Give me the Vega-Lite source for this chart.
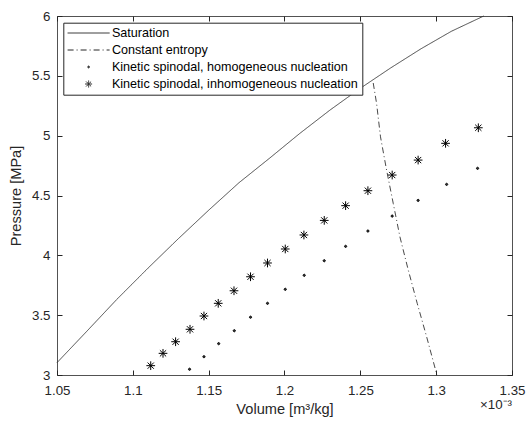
{
  "$schema": "https://vega.github.io/schema/vega-lite/v6.json",
  "width": 455,
  "height": 359,
  "autosize": {"type": "none"},
  "padding": {"left": 57, "top": 16, "right": 16, "bottom": 52},
  "background": "white",
  "title": {"text": "×10⁻³", "orient": "bottom", "anchor": "end", "frame": "group", "offset": -18, "font": "Liberation Sans", "fontSize": 13.3, "fontWeight": "normal", "color": "#262626"},
  "datasets": {
    "lines": [
      {"series": "Saturation", "v": 1.05, "p": 3.103},
      {"series": "Saturation", "v": 1.07, "p": 3.37},
      {"series": "Saturation", "v": 1.0893, "p": 3.63},
      {"series": "Saturation", "v": 1.11, "p": 3.893},
      {"series": "Saturation", "v": 1.13, "p": 4.139},
      {"series": "Saturation", "v": 1.15, "p": 4.377},
      {"series": "Saturation", "v": 1.17, "p": 4.607},
      {"series": "Saturation", "v": 1.19, "p": 4.81},
      {"series": "Saturation", "v": 1.21, "p": 5.018},
      {"series": "Saturation", "v": 1.23, "p": 5.214},
      {"series": "Saturation", "v": 1.25, "p": 5.396},
      {"series": "Saturation", "v": 1.27, "p": 5.566},
      {"series": "Saturation", "v": 1.29, "p": 5.726},
      {"series": "Saturation", "v": 1.31, "p": 5.872},
      {"series": "Saturation", "v": 1.3314, "p": 6.0},
      {"series": "Constant entropy", "v": 1.2585, "p": 5.44},
      {"series": "Constant entropy", "v": 1.2607, "p": 5.27},
      {"series": "Constant entropy", "v": 1.2633, "p": 4.99},
      {"series": "Constant entropy", "v": 1.2673, "p": 4.713},
      {"series": "Constant entropy", "v": 1.2717, "p": 4.434},
      {"series": "Constant entropy", "v": 1.2761, "p": 4.155},
      {"series": "Constant entropy", "v": 1.2816, "p": 3.877},
      {"series": "Constant entropy", "v": 1.2875, "p": 3.599},
      {"series": "Constant entropy", "v": 1.2937, "p": 3.32},
      {"series": "Constant entropy", "v": 1.3005, "p": 3.0}
    ],
    "points": [
      {"series": "Kinetic spinodal, homogeneous nucleation", "v": 1.1374, "p": 3.048},
      {"series": "Kinetic spinodal, homogeneous nucleation", "v": 1.1469, "p": 3.153},
      {"series": "Kinetic spinodal, homogeneous nucleation", "v": 1.1566, "p": 3.262},
      {"series": "Kinetic spinodal, homogeneous nucleation", "v": 1.1669, "p": 3.37},
      {"series": "Kinetic spinodal, homogeneous nucleation", "v": 1.1776, "p": 3.483},
      {"series": "Kinetic spinodal, homogeneous nucleation", "v": 1.1888, "p": 3.599},
      {"series": "Kinetic spinodal, homogeneous nucleation", "v": 1.2005, "p": 3.716},
      {"series": "Kinetic spinodal, homogeneous nucleation", "v": 1.213, "p": 3.833},
      {"series": "Kinetic spinodal, homogeneous nucleation", "v": 1.2262, "p": 3.955},
      {"series": "Kinetic spinodal, homogeneous nucleation", "v": 1.2403, "p": 4.075},
      {"series": "Kinetic spinodal, homogeneous nucleation", "v": 1.255, "p": 4.203},
      {"series": "Kinetic spinodal, homogeneous nucleation", "v": 1.271, "p": 4.328},
      {"series": "Kinetic spinodal, homogeneous nucleation", "v": 1.2881, "p": 4.459},
      {"series": "Kinetic spinodal, homogeneous nucleation", "v": 1.3069, "p": 4.593},
      {"series": "Kinetic spinodal, homogeneous nucleation", "v": 1.3273, "p": 4.727},
      {"series": "Kinetic spinodal, inhomogeneous nucleation", "v": 1.1118, "p": 3.078},
      {"series": "Kinetic spinodal, inhomogeneous nucleation", "v": 1.1199, "p": 3.181},
      {"series": "Kinetic spinodal, inhomogeneous nucleation", "v": 1.1282, "p": 3.278},
      {"series": "Kinetic spinodal, inhomogeneous nucleation", "v": 1.1377, "p": 3.382},
      {"series": "Kinetic spinodal, inhomogeneous nucleation", "v": 1.1469, "p": 3.493},
      {"series": "Kinetic spinodal, inhomogeneous nucleation", "v": 1.1563, "p": 3.599},
      {"series": "Kinetic spinodal, inhomogeneous nucleation", "v": 1.1667, "p": 3.704},
      {"series": "Kinetic spinodal, inhomogeneous nucleation", "v": 1.1776, "p": 3.821},
      {"series": "Kinetic spinodal, inhomogeneous nucleation", "v": 1.1888, "p": 3.936},
      {"series": "Kinetic spinodal, inhomogeneous nucleation", "v": 1.2005, "p": 4.053},
      {"series": "Kinetic spinodal, inhomogeneous nucleation", "v": 1.2128, "p": 4.17},
      {"series": "Kinetic spinodal, inhomogeneous nucleation", "v": 1.2262, "p": 4.292},
      {"series": "Kinetic spinodal, inhomogeneous nucleation", "v": 1.2403, "p": 4.415},
      {"series": "Kinetic spinodal, inhomogeneous nucleation", "v": 1.255, "p": 4.54},
      {"series": "Kinetic spinodal, inhomogeneous nucleation", "v": 1.271, "p": 4.671},
      {"series": "Kinetic spinodal, inhomogeneous nucleation", "v": 1.2881, "p": 4.796},
      {"series": "Kinetic spinodal, inhomogeneous nucleation", "v": 1.3062, "p": 4.936},
      {"series": "Kinetic spinodal, inhomogeneous nucleation", "v": 1.3278, "p": 5.066}
    ]
  },
  "layer": [
    {
      "data": {"name": "lines"},
      "mark": {"type": "line", "strokeWidth": 0.9, "color": "#333333"},
      "encoding": {
        "x": {"field": "v", "type": "quantitative",
          "scale": {"domain": [1.05, 1.35], "nice": false, "zero": false},
          "axis": {"orient": "bottom", "values": [1.05, 1.1, 1.15, 1.2, 1.25, 1.3, 1.35], "format": ".2~f", "labelPadding": 13, "title": "Volume [m³/kg]", "titlePadding": 5}},
        "y": {"field": "p", "type": "quantitative",
          "scale": {"domain": [3, 6], "nice": false, "zero": false},
          "axis": {"orient": "left", "values": [3, 3.5, 4, 4.5, 5, 5.5, 6], "format": ".1~f", "labelPadding": 12, "title": "Pressure [MPa]", "titlePadding": 8}},
        "strokeDash": {"field": "series", "type": "nominal",
          "scale": {"domain": ["Saturation", "Constant entropy", "Kinetic spinodal, homogeneous nucleation", "Kinetic spinodal, inhomogeneous nucleation"],
            "range": [[1, 0], [6, 3, 1, 3], [1, 0], [1, 0]]},
          "legend": {"orient": "none", "legendX": 6.3, "legendY": 6.7, "title": null}}
      }
    },
    {
      "data": {"name": "points"},
      "mark": {"type": "point", "filled": false, "size": 155, "strokeWidth": 1, "color": "#000000", "opacity": 1},
      "encoding": {
        "x": {"field": "v", "type": "quantitative",
          "scale": {"domain": [1.05, 1.35], "nice": false, "zero": false},
          "axis": {"orient": "top", "values": [1.05, 1.1, 1.15, 1.2, 1.25, 1.3, 1.35], "labels": false, "title": null}},
        "y": {"field": "p", "type": "quantitative",
          "scale": {"domain": [3, 6], "nice": false, "zero": false},
          "axis": {"orient": "right", "values": [3, 3.5, 4, 4.5, 5, 5.5, 6], "labels": false, "title": null}},
        "shape": {"field": "series", "type": "nominal",
          "scale": {"domain": ["Saturation", "Constant entropy", "Kinetic spinodal, homogeneous nucleation", "Kinetic spinodal, inhomogeneous nucleation"],
            "range": ["M-4.2,0L4.2,0", "M-4.2,0L4.2,0", "M-0.18,0A0.18,0.18,0,1,1,0.18,0A0.18,0.18,0,1,1,-0.18,0M-0.08,0A0.08,0.08,0,1,1,0.08,0A0.08,0.08,0,1,1,-0.08,0", "M-0.7,0L0.7,0M0,-0.7L0,0.7M-0.5,-0.5L0.5,0.5M-0.5,0.5L0.5,-0.5"]},
          "legend": {"orient": "none", "legendX": 6.3, "legendY": 6.7, "title": null}}
      }
    }
  ],
  "resolve": {"axis": {"x": "independent", "y": "independent"}},
  "config": {
    "view": {"stroke": null},
    "axis": {"grid": false, "domainColor": "#262626", "domainWidth": 0.8, "ticks": true, "tickColor": "#262626", "tickWidth": 1, "tickSize": -5,
      "labelFont": "Liberation Sans", "labelFontSize": 13.3, "labelColor": "#262626", "labelFlush": false, "labelOverlap": false, "labelBound": false,
      "titleFont": "Liberation Sans", "titleFontSize": 14.6, "titleColor": "#262626", "titleFontWeight": "normal"},
    "legend": {"labelFont": "Liberation Sans", "labelFontSize": 12.6, "labelColor": "#000000", "labelLimit": 400,
      "symbolSize": 100, "symbolStrokeWidth": 1, "symbolStrokeColor": "#262626", "symbolFillColor": "#000000",
      "strokeColor": "#262626", "fillColor": "white", "padding": 4, "rowPadding": 4, "symbolOffset": 15, "labelOffset": 17}
  }
}
